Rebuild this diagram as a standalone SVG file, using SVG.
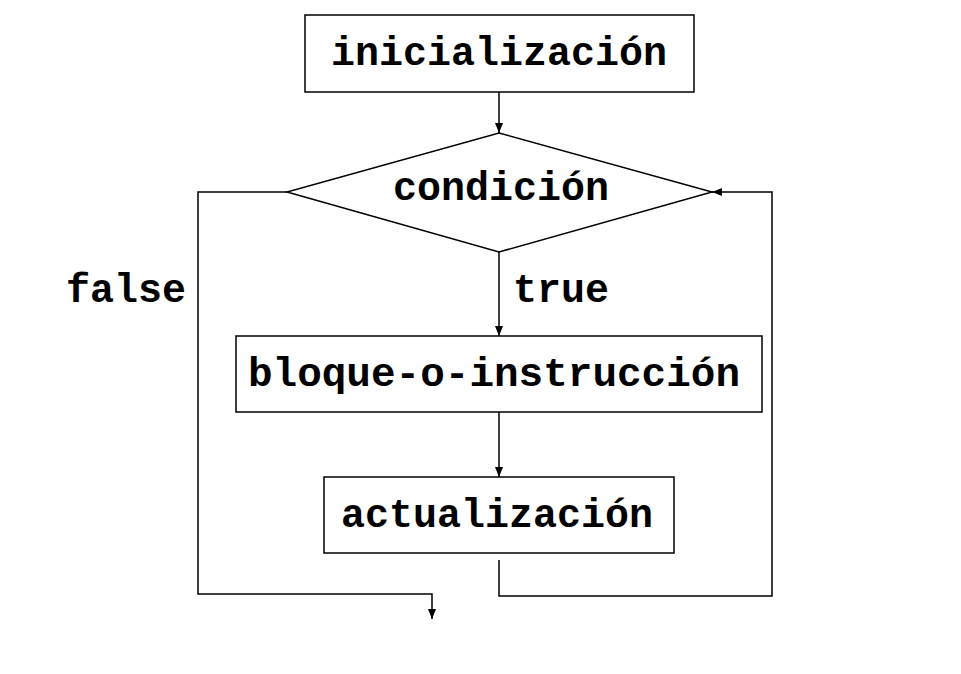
<svg xmlns="http://www.w3.org/2000/svg" width="961" height="674" viewBox="0 0 961 674">
<defs>
<style>
.box{fill:#fff;stroke:#000;stroke-width:1.5}
.ln{fill:none;stroke:#000;stroke-width:1.5}
.t{font-family:"Liberation Mono","Courier New",monospace;font-weight:bold;font-size:40px;fill:#000;text-anchor:middle}
</style>
<marker id="ah" viewBox="0 0 10 10" refX="10" refY="5" markerWidth="10" markerHeight="10" markerUnits="userSpaceOnUse" orient="auto">
<path d="M0,1 L10,5 L0,9 Z" fill="#000"/>
</marker>
</defs>
<rect width="961" height="674" fill="#fff"/>
<g id="connectors">
<path class="ln" d="M499,92 V133" marker-end="url(#ah)"/>
<path class="ln" d="M499,252 V336" marker-end="url(#ah)"/>
<path class="ln" d="M499,412 V477" marker-end="url(#ah)"/>
<path class="ln" d="M499,560 V596 H772 V192 H712" marker-end="url(#ah)"/>
<path class="ln" d="M287,192 H198 V594 H432 V619" marker-end="url(#ah)"/>
<text class="t" x="126" y="302">false</text>
<text class="t" x="561" y="302">true</text>
</g>
<g id="inicializacion">
<rect class="box" x="305" y="15" width="389" height="77"/>
<text class="t" x="499" y="65">inicialización</text>
</g>
<g id="condicion">
<polygon class="box" points="499,133 712,192 499,252 287,192"/>
<text class="t" x="501" y="200">condición</text>
</g>
<g id="bloque">
<rect class="box" x="236" y="336" width="526" height="76"/>
<text class="t" x="494" y="386" style="font-size:41px">bloque-o-instrucción</text>
</g>
<g id="actualizacion">
<rect class="box" x="324" y="477" width="350" height="76"/>
<text class="t" x="497" y="527">actualización</text>
</g>
</svg>
